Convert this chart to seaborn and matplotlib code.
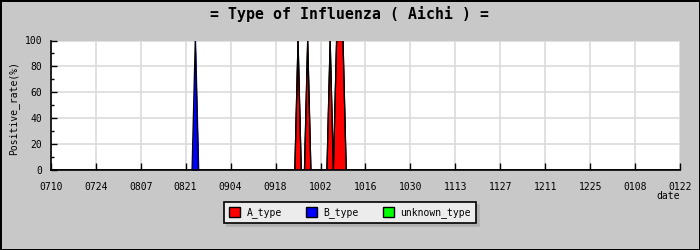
import matplotlib
matplotlib.use("Agg")
import matplotlib.pyplot as plt
from matplotlib.patches import Patch
import numpy as np
import pandas as pd
import seaborn as sns

# ---- data ----
start_date = "2009-07-10"
end_date = "2010-01-22"
series_names = ["A_type", "B_type", "unknown_type"]
series_colors = ["#ff0000", "#0000ff", "#00ff00"]

a_dates = ["2009-09-25", "2009-09-28", "2009-10-05", "2009-10-07", "2009-10-08", "2009-10-09"]
a_values = [100, 100, 100, 100, 100, 100]
b_dates = ["2009-08-24"]
b_values = [100]
unknown_dates = []
unknown_values = []

tick_labels = ["0710", "0724", "0807", "0821", "0904", "0918", "1002", "1016",
               "1030", "1113", "1127", "1211", "1225", "0108", "0122"]
y_ticks = [0, 20, 40, 60, 80, 100]

# ---- build daily table ----
days = pd.date_range(start_date, end_date, freq="D")
df = pd.DataFrame({"date": days})
for name, d, v in [("A_type", a_dates, a_values), ("B_type", b_dates, b_values),
                   ("unknown_type", unknown_dates, unknown_values)]:
    s = pd.Series(v, index=pd.to_datetime(d), dtype=float)
    df[name] = df["date"].map(s).fillna(0.0)

sns.set_style("white")
plt.rcParams["font.family"] = ["DejaVu Sans Mono", "DejaVu Sans"]
plt.rcParams["text.color"] = "black"
plt.rcParams["axes.labelcolor"] = "black"
plt.rcParams["xtick.color"] = "black"
plt.rcParams["ytick.color"] = "black"

bg = "#c8c8c8"
fig = plt.figure(figsize=(7, 2.5), dpi=100, facecolor=bg, edgecolor="black", linewidth=2)
ax = fig.add_axes([50.7 / 700, 1 - 170 / 250, (680.3 - 50.7) / 700, (170 - 40.5) / 250])
ax.set_facecolor("white")

bottom = np.zeros(len(df))
for name, col in zip(series_names, series_colors):
    vals = df[name].values
    top = bottom + vals
    if vals.sum() > 0:
        nz = vals > 0
        mask = nz | np.roll(nz, 1) | np.roll(nz, -1)
        ax.fill_between(df["date"], bottom, top, where=mask, color=col, linewidth=0.6,
                        edgecolor=col, zorder=3)
        tmp = pd.DataFrame({"date": df["date"], "v": top})
        sns.lineplot(data=tmp, x="date", y="v", ax=ax, color="black", linewidth=0.9, zorder=4)
    bottom = top

ax.set_xlim(pd.Timestamp(start_date), pd.Timestamp(end_date))
ax.set_ylim(0, 100)
ticks = pd.date_range(start_date, end_date, freq="14D")
ax.set_xticks(ticks)
ax.set_xticklabels(tick_labels)
ax.set_yticks(y_ticks)
ax.set_yticks(np.arange(10, 100, 20), minor=True)
ax.grid(True, which="major", color="#dcdcdc", linewidth=1.2, zorder=0)
ax.set_axisbelow(True)

for sp in ["top", "right"]:
    ax.spines[sp].set_visible(False)
for sp in ["left", "bottom"]:
    ax.spines[sp].set_color("black")
    ax.spines[sp].set_linewidth(1.2)
    ax.spines[sp].set_zorder(5)

ax.tick_params(axis="x", which="major", direction="in", length=5, width=1, pad=9,
               labelsize=7, colors="black", bottom=True)
ax.tick_params(axis="y", which="major", direction="in", length=4, width=1, pad=6,
               labelsize=7, colors="black", left=True)
ax.tick_params(axis="y", which="minor", direction="in", length=2, width=1, left=True)
ax.set_xlabel("")
ax.set_ylabel("Positive_rate(%)", fontsize=7, labelpad=0)
ax.yaxis.set_label_coords(-(50.7 - 19.5) / (680.3 - 50.7), 0.48)

fig.text(680 / 700, 1 - 196 / 250, "date", ha="right", va="center", fontsize=7)
fig.text(0.5, 1 - 14 / 250, "= Type of Influenza ( Aichi ) =", ha="center", va="center",
         fontsize=10.7, fontweight="bold", color="black")

handles = [Patch(facecolor=c, edgecolor="black", linewidth=1, label=n)
           for n, c in zip(series_names, series_colors)]
leg = fig.legend(handles=handles, loc="center", bbox_to_anchor=(350 / 700, 1 - 212.8 / 250),
                 ncol=3, fontsize=7, frameon=True, fancybox=False,
                 shadow={"color": "#b0b0b0", "alpha": 1.0},
                 edgecolor="black", facecolor="#ececec", framealpha=1,
                 handlelength=1.1, handleheight=1.1, handletextpad=0.7, columnspacing=2.5,
                 borderpad=0.5)
leg.get_frame().set_linewidth(1.2)

fig.savefig("out.png", dpi=100, facecolor=bg, edgecolor="black")
